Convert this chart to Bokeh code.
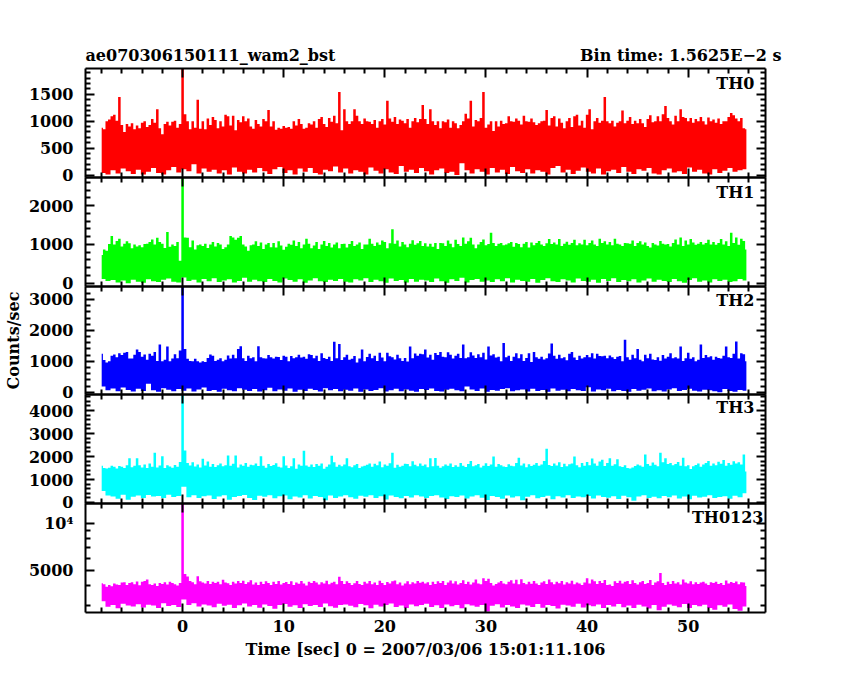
from bokeh.embed import file_html
from bokeh.resources import INLINE
from bokeh.plotting import figure
from bokeh.models import Range1d, LogScale, LinearScale, LinearAxis, FixedTicker, Label
import math

bin_start = -8.0
bin_step = 0.25
lower_per_bin = 2

th0_upper = [
880,850,1000,1030,1090,1120,1010,1450,930,800,950,900,960,850,920,870,970,1000,890,930,1040,970,1220,870,760,950,990,920,990,1010,880,950,
1978,1130,1000,850,1000,880,1400,860,1000,850,1050,930,1080,1020,870,1000,900,1120,1090,920,1100,830,1020,980,1090,1000,1050,900,860,1020,950,900,
1040,1000,1210,900,1000,840,880,860,910,880,890,860,1000,920,1040,950,860,880,960,940,1000,880,1040,1080,950,890,1060,990,1100,960,1540,830,
1220,1000,950,1000,1220,1100,1000,950,1050,1000,990,950,1020,880,1000,1040,940,1380,1050,990,1080,950,1030,1010,960,1040,880,1000,1060,980,1040,1300,
1040,950,1220,1000,930,1000,870,1000,980,1030,880,1000,960,870,930,1000,1140,1050,1380,900,1020,1000,1060,1540,880,940,1000,820,1000,900,1010,950,
960,1090,1000,990,1050,1010,940,1100,1000,990,1050,980,930,960,1000,1010,1210,920,1060,1090,900,1050,970,870,1000,1060,890,1090,1120,920,1010,880,
1120,1220,850,1000,1060,970,1010,1450,1000,960,1010,900,970,1000,1200,960,1010,1080,950,1010,960,1040,960,890,1040,1110,980,1000,1090,1000,1130,1280,
1060,1000,940,1100,1000,1220,1080,1060,1000,1060,970,1040,1000,1080,1000,940,1070,1000,1030,970,1050,950,1000,1000,1080,1150,1110,1050,1000,1060,870,850]
th0_lower = [
40,10,90,30,120,70,20,100,10,60,130,40,10,90,150,50,
110,70,200,30,120,60,100,30,90,10,140,60,30,100,50,130,
70,20,110,150,40,90,10,120,60,130,40,10,100,70,160,50,
120,30,90,60,10,140,80,30,110,50,20,170,60,100,40,130,
70,10,90,120,40,60,0,220,90,30,110,60,10,130,50,100,
20,150,70,40,110,30,90,60,10,130,170,50,100,20,80,140,
60,30,120,10,70,100,40,150,60,20,110,80,130,30,10,90,
120,50,70,20,140,60,100,30,10,110,40,80,130,60,90,110]

th1_upper = [
730,870,840,1010,1220,1000,1090,1150,950,1020,1080,1030,900,1000,950,980,930,1010,1020,1060,1130,1000,1170,1060,1020,910,1320,940,1000,960,1060,580,
2727,1180,1170,930,1100,870,980,1000,960,1020,910,1000,1060,950,1040,1000,880,930,1000,1220,1180,1120,1170,1220,1000,950,840,980,1000,1080,960,1050,
880,1000,1040,930,1040,920,1080,970,860,940,1020,990,1100,960,1060,900,1000,1150,1020,900,970,1060,880,1000,1090,960,1040,920,1000,1050,900,1010,
1020,920,1010,1090,960,1000,1050,880,1000,1000,1150,1020,960,1050,990,1100,1060,900,1030,1390,1020,1100,950,1060,1000,930,1020,1110,990,1030,1090,960,
1030,950,1020,940,1040,880,1040,1030,960,1100,1020,930,1120,1010,960,1180,1020,1080,1170,1000,900,1000,1060,1130,980,1010,1300,1040,960,1020,1040,980,
1000,1030,1060,940,1040,1010,930,1020,1060,920,1050,980,1040,1090,1000,960,1030,1140,1010,1050,1000,1140,960,1020,1070,990,1040,1120,980,1030,1000,1120,
980,1040,1100,1000,960,1150,1040,1080,1000,1060,980,1150,1020,1000,960,1040,1030,1020,1100,960,1040,1080,1000,1050,960,920,1040,1000,970,1090,1020,1000,
1010,950,1040,1130,1000,1180,960,1100,1000,1140,1050,990,1020,1060,1000,1040,1120,1000,1060,990,1040,1140,1000,1080,960,1300,1040,1180,990,1150,1090,870]
th1_lower = [
110,60,80,20,70,0,90,40,10,100,50,30,90,120,40,20,
150,60,90,20,110,50,130,30,70,100,20,60,140,40,90,50,
30,110,60,20,120,80,40,100,10,70,130,50,30,90,60,110,
40,20,100,70,130,30,90,50,10,120,60,80,20,110,40,90,
70,30,120,50,10,100,60,140,20,80,110,40,70,30,100,50,
130,20,90,60,40,110,10,80,130,50,30,100,70,20,120,60,
40,90,10,110,60,130,30,80,50,100,20,70,120,40,90,60,
30,110,50,10,80,130,40,70,20,100,60,90,30,50,110,70]

th2_upper = [
1240,1040,960,1000,1180,1220,1130,1260,1200,1280,1300,1090,1090,1210,1380,1300,1150,1220,1050,1240,1180,1300,1010,1540,1000,1050,1480,1000,1090,1230,1100,1350,
3420,1400,1080,1010,1000,1080,1000,960,1000,980,1110,1220,1180,1010,1050,1100,1000,1050,1190,1090,1210,1100,1400,1490,1100,1010,1180,1100,1130,1000,1490,1130,
1100,1090,1200,1130,1090,1150,1140,1040,1180,1150,1000,1170,1100,1130,1210,1120,1150,1080,1230,1200,1100,1180,1010,1260,1110,1070,1150,1010,1630,1100,1560,1040,
1130,1210,1050,1080,1170,960,1090,1380,1000,1140,1240,1100,1180,1010,1280,1120,1000,1280,1160,1130,1060,1210,1100,1010,1110,990,1480,1100,1250,1180,1240,1230,
1380,1120,1210,1050,1270,1200,1300,1150,1130,1290,1210,1090,1180,1240,1110,1540,1100,1130,1290,1190,1110,1230,1130,1280,1060,1480,1190,1230,1120,1150,1000,1590,
1130,1180,1010,1150,1260,1100,1230,1010,1110,1260,980,1300,1130,1080,1150,1060,1100,1250,1575,1180,1080,1210,1100,1130,1030,1240,1300,1120,1040,1180,1090,1130,
1200,1130,1260,1090,1240,1170,1160,1180,1100,1190,1130,1070,1150,1170,1000,1700,1130,1050,1210,1100,1400,1050,1000,1210,1100,1240,1060,1040,1130,1020,1200,1090,
1150,1260,1100,1130,1090,1480,1010,1100,1280,1080,1130,1000,1050,1540,1110,1200,1130,1160,1050,1150,1110,1090,1180,1480,1130,1110,1240,1640,1090,1260,1230,1000]
th2_lower = [
180,60,120,30,150,70,20,110,40,270,60,10,130,80,30,100,
50,120,20,90,150,40,70,10,110,60,30,130,80,40,100,20,
60,140,30,90,50,120,10,80,40,110,70,20,130,60,100,30,
80,50,120,10,90,40,70,130,20,60,110,30,90,50,10,100,
70,120,40,20,80,110,60,30,180,90,40,120,10,70,50,100,
130,30,60,90,20,110,40,70,10,120,50,80,30,100,60,40,
160,20,90,60,110,30,70,40,10,100,50,80,120,30,60,20,
90,130,40,70,110,50,20,80,60,30,0,100,40,10,70,50]

th3_upper = [
1600,1500,1480,1510,1600,1560,1480,1590,1560,1500,1620,1930,1530,1600,1930,1620,1520,1650,1500,1700,1560,2170,1520,1610,2010,1500,1620,1570,1510,1630,1560,1760,
4700,2260,1720,1610,1750,1570,1650,1520,1900,1610,1780,1560,1680,1540,1620,1700,1580,1620,2040,1600,1690,2040,1520,1650,1600,1720,1560,1640,1620,1700,1590,2010,
1600,1510,1680,1590,1630,1710,1560,1520,2010,1610,1500,1580,1930,1470,1650,1600,2250,1610,1560,1650,1540,1680,1600,1700,1470,1560,1650,2030,1750,1560,1640,1580,
1650,1930,1580,1530,1620,1680,1500,1570,1600,1640,1700,1560,1690,1620,1780,1530,1650,1600,1710,2170,1510,1640,1560,1600,1690,1680,1580,1800,1640,1580,1700,1600,
1650,1530,1930,1580,1940,1600,1510,1580,1650,1600,1700,1550,1620,1560,1720,1600,1540,1680,1810,1580,1620,1670,1520,1600,1710,1590,1650,2000,1560,1680,1620,1570,
1540,1660,1600,1580,1720,1950,1610,1700,1530,1660,1590,1640,1720,1600,1650,1810,2340,1630,1590,1700,1610,1750,1540,1690,1580,1660,1700,2000,1620,1530,1720,1600,
1760,1620,1910,1700,1600,1780,1860,1590,1720,1920,1600,1660,1880,1580,1540,1620,1500,1480,1520,1590,1650,1610,1560,2090,1680,1600,1740,1640,1580,2170,1750,1920,
1670,1720,1620,1680,1760,1600,1950,1580,1620,1460,1580,1630,1700,1560,1650,1720,1810,1600,1700,1620,1770,1690,1850,1600,1720,1640,1790,1700,1750,1650,2090,1350]
th3_lower = [
500,300,260,160,340,120,250,300,200,330,260,280,190,340,240,280,
680,230,320,190,270,300,150,260,310,120,240,280,330,200,110,290,
250,320,180,270,300,140,260,220,310,170,280,240,100,300,190,260,
320,230,160,290,250,310,200,270,130,300,240,180,280,220,320,260,
190,280,310,220,150,270,240,300,170,260,320,210,110,280,240,160,
300,220,270,100,250,310,180,240,290,140,270,220,310,190,260,230,
280,170,300,240,210,270,150,290,230,80,260,310,200,250,180,280,
230,300,170,260,140,290,220,250,310,190,240,270,160,290,230,400]

th0123_upper = [
4160,4100,3950,4050,3980,4150,4080,4060,4200,4230,4050,4180,4220,4100,4270,4040,4260,4300,4400,4100,4050,4150,4000,4180,4120,4220,4080,4250,4180,4100,4030,4180,
13400,4760,4600,4300,4220,4100,4610,4280,4200,4150,4300,4120,4250,4180,4260,4100,4380,4200,4160,4050,4250,4150,4300,4180,4320,4120,4220,4350,4080,4200,4060,4250,
4120,4280,4180,4050,4250,4120,4300,4080,4180,4240,4120,4280,4060,4200,4130,4300,4150,4020,4260,4180,4300,4200,4080,4220,4150,4320,4100,4190,4260,4100,4570,4300,
4120,4280,4180,4050,4160,4300,4120,4050,4260,4150,4300,4100,4210,4050,4320,4180,4060,4240,4150,4280,4330,4100,4200,4030,4150,4280,4100,4220,4150,4300,4190,4260,
4150,4230,4060,4250,4120,4280,4180,4300,4050,4200,4330,4150,4280,4090,4180,4350,4120,4250,4080,4200,4400,4150,4100,4480,4300,4450,4180,4020,4120,4200,4300,4150,
4100,4250,4350,4150,4380,4100,4420,4180,4100,4250,4130,4300,4150,4050,4200,4280,4120,4400,4220,4100,4250,4160,4300,4080,4220,4140,4320,4100,4200,4150,4050,4200,
4480,4150,4400,4280,4120,4300,4180,4370,4050,4080,4000,4280,4180,4320,4150,4250,4300,4120,4350,4180,4080,4220,4300,4120,4180,4360,4050,4200,4280,4830,4180,4050,
4250,4120,4300,4150,4230,4080,4400,4200,4150,4280,4100,4230,4120,4200,4260,4150,4050,4220,4180,4250,4120,4180,4060,4330,4150,4240,4180,4270,4100,4230,4200,4000]
th0123_lower = [
3200,2950,3020,2880,3080,3000,2960,3060,2920,3040,3000,2900,3100,2980,3030,2940,
3280,3020,3100,2960,3050,3000,2930,3080,2990,3040,2890,3010,3090,2960,3030,2910,
3050,2980,2860,3020,3070,2950,3010,2900,3060,2980,3030,2940,3090,2970,2910,3020,
3050,2990,2930,3070,3010,2880,3040,2960,3020,3090,2940,3000,2900,3050,2970,3030,
3080,2940,3010,2900,3050,2970,3020,2880,3060,3000,2950,3030,2750,2990,3060,2920,
3020,2960,2890,3050,3000,2940,3070,2910,3030,2980,2870,3040,3000,2950,3080,2920,
3010,2970,3050,2900,3020,2960,3070,2930,3000,2900,3040,2960,2870,3020,2800,2950,
3050,2990,2930,3070,2900,3020,2970,3040,2890,2820,3010,2950,3050,2850,2780,2960]

time_ticks = [0, 10, 20, 30, 40, 50]
time_minor = [-8, -6, -4, -2, 2, 4, 6, 8, 12, 14, 16, 18, 22, 24, 26, 28, 32, 34, 36, 38, 42, 44, 46, 48, 52, 54, 56]
th_labels = ["TH0", "TH1", "TH2", "TH3", "TH0123"]

panels = [
    dict(name="th0", up=th0_upper, lo=th0_lower, color="#ff0000", ymin=-45, ymax=1978, log=False,
         major=[0, 500, 1000, 1500], minor=list(range(0, 2000, 100)), ltop=83, lright=754),
    dict(name="th1", up=th1_upper, lo=th1_lower, color="#00ff00", ymin=-85, ymax=2727, log=False,
         major=[0, 1000, 2000], minor=list(range(0, 2800, 200)), ltop=192, lright=754),
    dict(name="th2", up=th2_upper, lo=th2_lower, color="#0000ff", ymin=-75, ymax=3420, log=False,
         major=[0, 1000, 2000, 3000], minor=list(range(0, 3400, 200)), ltop=300, lright=754),
    dict(name="th3", up=th3_upper, lo=th3_lower, color="#00ffff", ymin=-44, ymax=4700, log=False,
         major=[0, 1000, 2000, 3000, 4000], minor=list(range(0, 4800, 200)), ltop=407, lright=754),
    dict(name="th4", up=th0123_upper, lo=th0123_lower, color="#ff00ff", ymin=2710, ymax=13400, log=True,
         major=[5000, 10000], minor=[3000, 4000, 6000, 7000, 8000, 9000], ltop=517, lright=763),
]
edges_px = [68, 177, 286, 394, 503, 612]

W, H = 834, 664                       # the frame fills the whole canvas so no text is clipped
FRAME_L, FRAME_R = 85, 765
t_at_l, t_at_r = -9.6, 57.64
px_per_t = (FRAME_R - FRAME_L) / (t_at_r - t_at_l)
FONT = "DejaVu Serif"
FS = "16px"


def xpx(px):
    return t_at_l + (px - FRAME_L) / px_per_t


def ypx(py):
    return H - py


p = figure(width=W, height=H, output_backend="svg", toolbar_location=None,
           min_border=0, x_axis_location=None, y_axis_location=None,
           x_range=Range1d(xpx(0), xpx(W)), y_range=Range1d(0, H))
p.grid.visible = False
p.outline_line_color = None
p.background_fill_color = "white"
p.border_fill_color = "white"


def style(ax, labels=False):
    ax.axis_line_color = "black"
    ax.axis_line_width = 2
    ax.major_tick_line_color = "black"
    ax.major_tick_line_width = 2
    ax.minor_tick_line_color = "black"
    ax.minor_tick_line_width = 2
    ax.major_tick_in = 9
    ax.major_tick_out = 0
    ax.minor_tick_in = 5
    ax.minor_tick_out = 0
    ax.major_label_text_font = FONT
    ax.major_label_text_font_style = "bold"
    ax.major_label_text_color = "black" if labels else None
    ax.major_label_text_font_size = FS if labels else "0px"


for i, pn in enumerate(panels):
    py_top, py_bot = edges_px[i], edges_px[i + 1]
    f1, f0 = (H - py_top) / H, (H - py_bot) / H
    if pn["log"]:
        a, b = math.log10(pn["ymin"]), math.log10(pn["ymax"])
        k = (b - a) / (f1 - f0)
        start = 10 ** (a - f0 * k)
        end = 10 ** (a - f0 * k + k)
        p.extra_y_scales[pn["name"]] = LogScale()
    else:
        k = (pn["ymax"] - pn["ymin"]) / (f1 - f0)
        start = pn["ymin"] - f0 * k
        end = start + k
        p.extra_y_scales[pn["name"]] = LinearScale()
    p.extra_y_ranges[pn["name"]] = Range1d(start, end)

    up, lo = pn["up"], pn["lo"]
    t = [bin_start + j * bin_step for j in range(len(up))]
    low = [lo[min(j // lower_per_bin, len(lo) - 1)] for j in range(len(up))]
    p.varea_step(x=t, y1=low, y2=up, step_mode="center", fill_color=pn["color"],
                 y_range_name=pn["name"])

    minors = [m for m in pn["minor"] if m not in pn["major"]]
    overrides = {10000: "10⁴", 5000: "5000"} if pn["log"] else {}
    left = LinearAxis(y_range_name=pn["name"], fixed_location=t_at_l,
                      ticker=FixedTicker(ticks=pn["major"], minor_ticks=minors),
                      bounds=(pn["ymin"], pn["ymax"]), major_label_overrides=overrides,
                      major_label_standoff=12)
    style(left, labels=True)
    p.add_layout(left, "left")
    right = LinearAxis(y_range_name=pn["name"], fixed_location=t_at_r,
                       ticker=FixedTicker(ticks=pn["major"], minor_ticks=minors),
                       bounds=(pn["ymin"], pn["ymax"]))
    style(right)
    p.add_layout(right, "right")

    p.add_layout(Label(x=xpx(pn["lright"]), y=ypx(pn["ltop"]), text=th_labels[i],
                       text_align="right", text_baseline="middle", text_font=FONT,
                       text_font_size=FS, text_font_style="bold", text_color="black"))

# time axes on both sides of every panel edge
xt = dict(ticks=time_ticks, minor_ticks=time_minor)
for py in edges_px:
    last = py == edges_px[-1]
    if not last:
        a = LinearAxis(fixed_location=ypx(py), ticker=FixedTicker(**xt), bounds=(t_at_l, t_at_r))
        style(a)
        p.add_layout(a, "above")
    if py != edges_px[0]:
        b = LinearAxis(fixed_location=ypx(py), ticker=FixedTicker(**xt), bounds=(t_at_l, t_at_r),
                       major_label_standoff=7)
        style(b, labels=last)
        p.add_layout(b, "below")


def text(px, py, s, align, angle=0):
    p.add_layout(Label(x=xpx(px), y=ypx(py), text=s, text_align=align, angle=angle,
                       angle_units="deg", text_baseline="middle", text_font=FONT,
                       text_font_size=FS, text_font_style="bold", text_color="black"))


text(85, 55, "ae070306150111_wam2_bst", "left")
text(781, 55, "Bin time: 1.5625E−2 s", "right")
text(13, 340, "Counts/sec", "center", angle=90)
text(425, 649, "Time [sec] 0 = 2007/03/06 15:01:11.106", "center")

open("out.html", "w").write(file_html(p, INLINE))
